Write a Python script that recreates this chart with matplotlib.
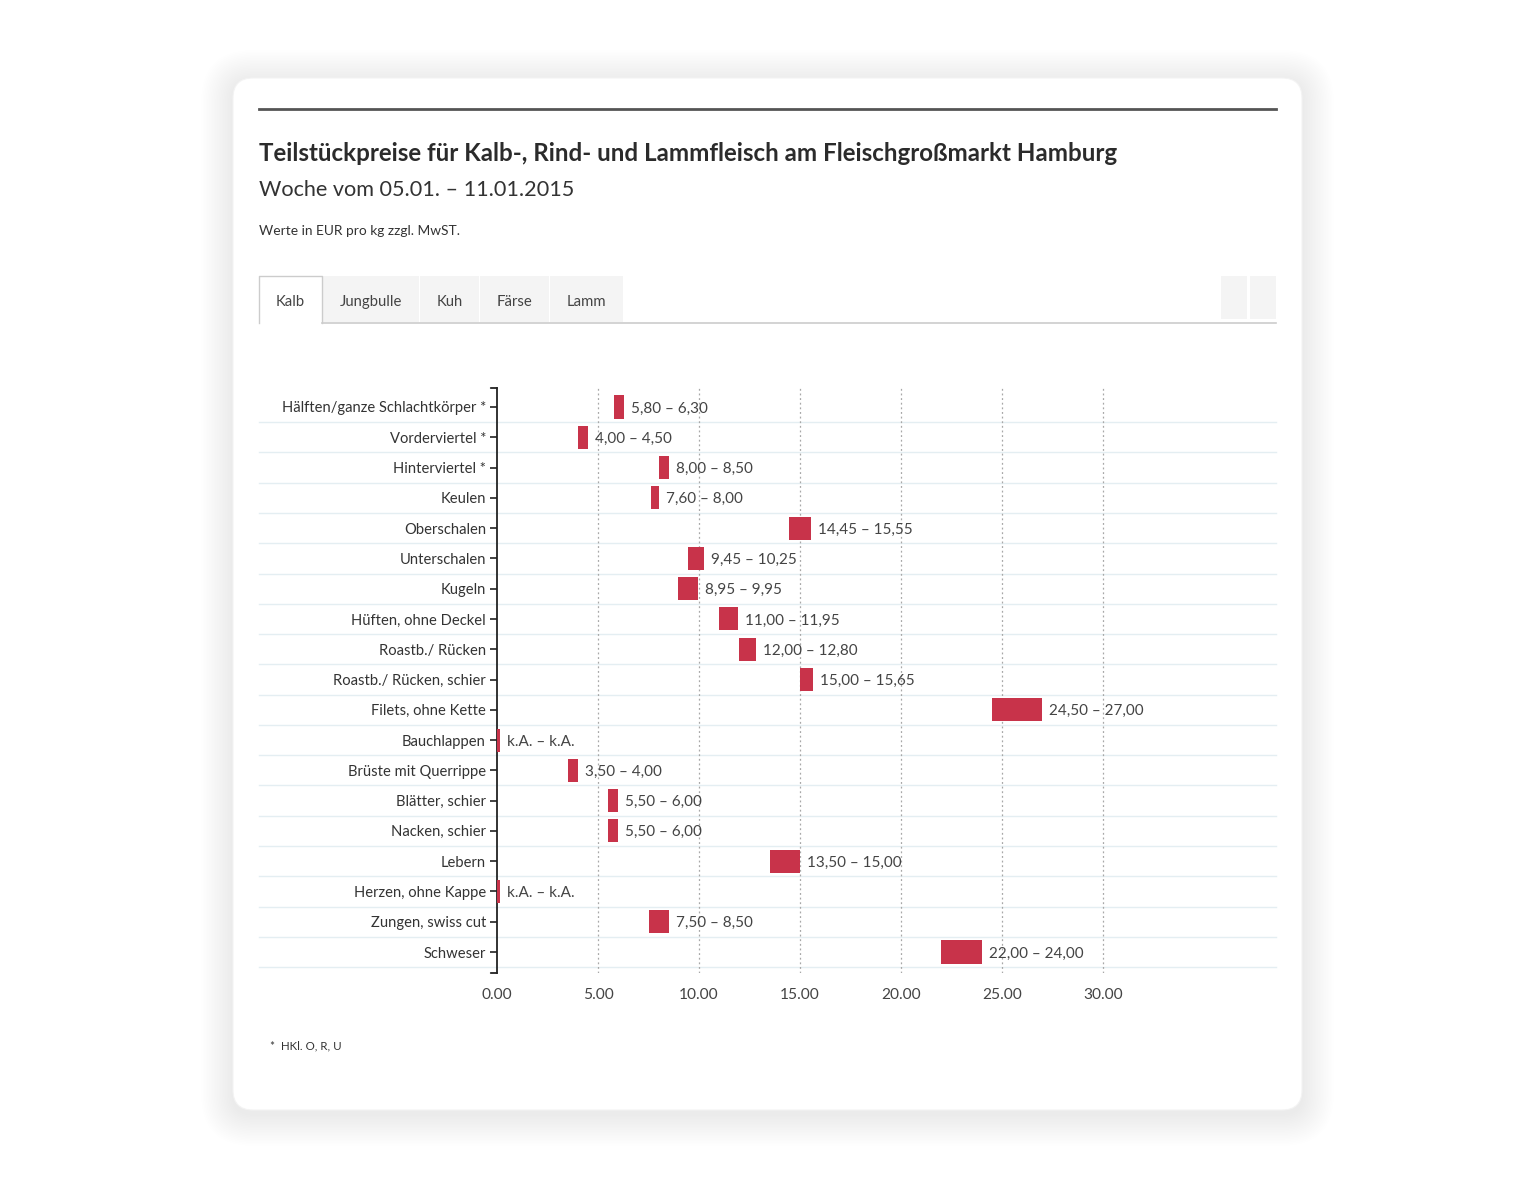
import matplotlib
matplotlib.use('Agg')
import matplotlib.pyplot as plt
from matplotlib.patches import FancyBboxPatch, Rectangle
from matplotlib.lines import Line2D

# ---------------- data ----------------
categories = ["Hälften/ganze Schlachtkörper *", "Vorderviertel *", "Hinterviertel *",
              "Keulen", "Oberschalen", "Unterschalen", "Kugeln", "Hüften, ohne Deckel",
              "Roastb./ Rücken", "Roastb./ Rücken, schier", "Filets, ohne Kette",
              "Bauchlappen", "Brüste mit Querrippe", "Blätter, schier", "Nacken, schier",
              "Lebern", "Herzen, ohne Kappe", "Zungen, swiss cut", "Schweser"]
price_low = [5.80, 4.00, 8.00, 7.60, 14.45, 9.45, 8.95, 11.00, 12.00, 15.00, 24.50,
             None, 3.50, 5.50, 5.50, 13.50, None, 7.50, 22.00]
price_high = [6.30, 4.50, 8.50, 8.00, 15.55, 10.25, 9.95, 11.95, 12.80, 15.65, 27.00,
              None, 4.00, 6.00, 6.00, 15.00, None, 8.50, 24.00]
x_ticks = [0, 5, 10, 15, 20, 25, 30]
tabs = ["Kalb", "Jungbulle", "Kuh", "Färse", "Lamm"]

title = "Teilstückpreise für Kalb-, Rind- und Lammfleisch am Fleischgroßmarkt Hamburg"
subtitle = "Woche vom 05.01. – 11.01.2015"
unit_note = "Werte in EUR pro kg zzgl. MwST."
footnote = "*  HKl. O, R, U"

# ---------------- style ----------------
FONT = ['Lato', 'DejaVu Sans']
plt.rcParams['font.family'] = FONT
BAR = '#c8334a'
TXT = '#333333'
W, H = 1536, 1190

fig = plt.figure(figsize=(W / 100, H / 100), dpi=100)
fig.patch.set_facecolor('white')
inch = fig.dpi_scale_trans


def fx(p):
    return p / W


def fy(p):
    return 1 - p / H


def prect(x0, y0, x1, y1, **kw):
    """rectangle given in pixel coords (top-left origin)"""
    r = Rectangle((x0 / 100, (H - y1) / 100), (x1 - x0) / 100, (y1 - y0) / 100,
                  transform=inch, **kw)
    fig.add_artist(r)
    return r


# card shadow + card
cx0, cy0, cx1, cy1 = 233, 78, 1302, 1110
for k in range(20, 0, -1):
    pad = k * 0.016
    sh = FancyBboxPatch((cx0 / 100 - pad, (H - cy1) / 100 - pad - 0.04),
                        (cx1 - cx0) / 100 + 2 * pad, (cy1 - cy0) / 100 + 2 * pad,
                        boxstyle='round,pad=0,rounding_size=%f' % (0.2 + pad),
                        transform=inch, facecolor='black', edgecolor='none',
                        alpha=0.0028, zorder=0)
    fig.add_artist(sh)
card = FancyBboxPatch((cx0 / 100, (H - cy1) / 100), (cx1 - cx0) / 100, (cy1 - cy0) / 100,
                      boxstyle='round,pad=0,rounding_size=0.2', transform=inch,
                      facecolor='white', edgecolor='#f3f3f3', lw=0.8, zorder=1)
fig.add_artist(card)

# top rule
fig.add_artist(Line2D([fx(259), fx(1276)], [fy(109), fy(109)], color='#555555', lw=2, zorder=2))

# titles
fig.text(fx(259), fy(161), title, fontsize=17.4, fontweight='bold', color='#2b2b2b',
         va='baseline', ha='left', zorder=3)
fig.text(fx(259), fy(196), subtitle, fontsize=15.6, fontweight='normal', color='#333333',
         va='baseline', ha='left', zorder=3)
fig.text(fx(259), fy(235), unit_note, fontsize=9.9, color='#333333',
         va='baseline', ha='left', zorder=3)

# tabs
tab_bounds = [(259, 322), (323, 419), (420, 479), (480, 549), (550, 623)]
for i, (name, (a, b)) in enumerate(zip(tabs, tab_bounds)):
    if i == 0:
        prect(a, 276, b, 324, facecolor='white', edgecolor='none', zorder=2)
        fig.add_artist(Line2D([fx(a), fx(a), fx(b), fx(b)], [fy(323), fy(276), fy(276), fy(323)],
                              color='#cccccc', lw=1, zorder=3))
    else:
        prect(a, 276, b, 322, facecolor='#f4f4f4', edgecolor='none', zorder=2)
    fig.text(fx((a + b) / 2), fy(302), name, fontsize=10.7, color='#444444',
             ha='center', va='center', zorder=4)
fig.add_artist(Line2D([fx(322), fx(1276)], [fy(323), fy(323)], color='#cccccc', lw=1.2, zorder=3))
prect(1221, 276, 1247, 319, facecolor='#f4f4f4', edgecolor='none', zorder=2)
prect(1250, 276, 1276, 319, facecolor='#f4f4f4', edgecolor='none', zorder=2)

# ---------------- chart ----------------
ax_l, ax_r, ax_t, ax_b = 497, 1276, 388, 973
px_per_unit = 20.2
row_h = (952 - 407) / 18
ax = fig.add_axes([fx(ax_l), fy(ax_b), (ax_r - ax_l) / W, (ax_b - ax_t) / H], zorder=5)
ax.set_facecolor('none')
n = len(categories)
ax.set_xlim(0, (ax_r - ax_l) / px_per_unit)
ax.set_ylim(n - 1 + (ax_b - 952) / row_h, -(407 - ax_t) / row_h)
left_ext = -(ax_l - 259) / px_per_unit

# row separators
for i in range(n):
    ax.plot([left_ext, ax.get_xlim()[1]], [i + 0.5, i + 0.5], color='#e4eef2', lw=1,
            clip_on=False, zorder=1)

# dotted grid
for t in x_ticks[1:]:
    ax.axvline(t, color='#a8a8a8', lw=0.9, ls=(0, (1.5, 2.2)), zorder=2)

ka_width = 0.15
for i, (lo, hi) in enumerate(zip(price_low, price_high)):
    if lo is None:
        left, width, end = 0, ka_width, ka_width
        label = "k.A. – k.A."
    else:
        left, width, end = lo, hi - lo, hi
        label = "%s – %s" % (f"{lo:.2f}".replace('.', ','), f"{hi:.2f}".replace('.', ','))
    ax.barh(i, width, left=left, height=0.76, color=BAR, zorder=3)
    ax.annotate(label, xy=(end, i), xytext=(5, 0), textcoords='offset points',
                ha='left', va='center_baseline', fontsize=11, color='#444444', zorder=4)

ax.set_yticks(range(n))
ax.set_yticklabels(categories, fontsize=10.6, color=TXT, va='center_baseline')
ax.tick_params(axis='y', length=5, width=1.2, color='#222222', pad=3)
ax.set_xticks(x_ticks)
ax.set_xticklabels([f"{t:.2f}" for t in x_ticks], fontsize=11.2, color='#444444')
ax.tick_params(axis='x', length=0, pad=11)
for s in ['top', 'right', 'bottom']:
    ax.spines[s].set_visible(False)
ax.spines['left'].set_color('#222222')
ax.spines['left'].set_linewidth(1.3)
# outer domain ticks
yl = ax.get_ylim()
for yy in yl:
    ax.annotate('', xy=(0, yy), xycoords='data', xytext=(-4.5, 0), textcoords='offset points',
                arrowprops=dict(arrowstyle='-', color='#222222', lw=1.3, shrinkA=0, shrinkB=0),
                annotation_clip=False)

fig.text(fx(270), fy(1046), footnote, fontsize=8.3, color='#333333', ha='left', va='center', zorder=3)

fig.savefig('out.png', dpi=100, facecolor='white')
